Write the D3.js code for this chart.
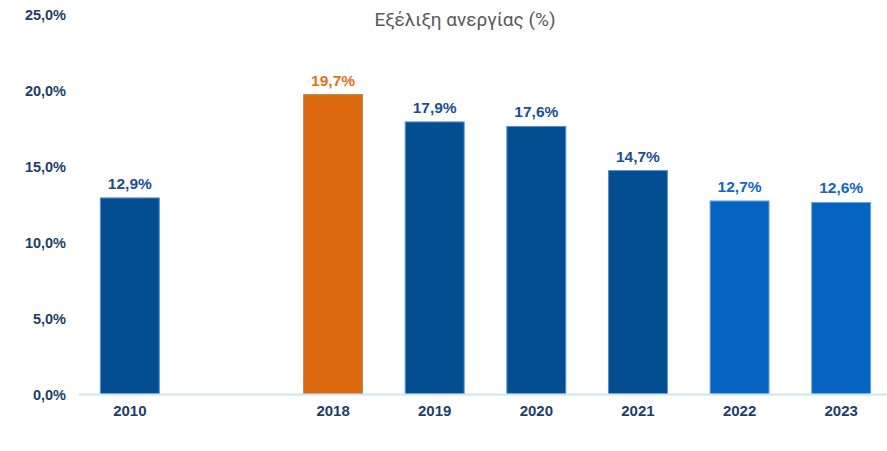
<!DOCTYPE html>
<html><head><meta charset="utf-8">
<script src="https://cdn.jsdelivr.net/npm/d3@7"></script>
<style>body{margin:0;background:#fff}svg{display:block}</style>
</head><body>
<svg id="c" width="887" height="451"></svg>
<script>
const categories = ["2010", "", "2018", "2019", "2020", "2021", "2022", "2023"];
const values = [12.9, null, 19.7, 17.9, 17.6, 14.7, 12.7, 12.6];
const yTicks = [0, 5, 10, 15, 20, 25];
const title = "Εξέλιξη ανεργίας (%)";
const barColors = ["#034e91", null, "#dd6a0f", "#034e91", "#034e91", "#034e91", "#0563c1", "#0563c1"];
const strokeColors = ["#5b8fd0", null, "#a8905a", "#5b8fd0", "#5b8fd0", "#5b8fd0", "#6aa3e0", "#6aa3e0"];
const labelColors = ["#1d4f8f", null, "#e2711d", "#1d4f8f", "#1d4f8f", "#1d4f8f", "#1166c4", "#1166c4"];

const svg = d3.select("#c");
const font = "'Liberation Sans', Arial, sans-serif";
const x = d3.scaleBand().domain(categories.map((c,i)=>i)).range([79, 892]).paddingInner(0.42).paddingOuter(0.21);
const y = d3.scaleLinear().domain([0, 25]).range([394, 14]);

svg.append("text").attr("x", 465).attr("y", 26).attr("text-anchor", "middle")
  .attr("font-family", "Roboto, 'Liberation Sans', sans-serif").attr("font-size", 19).attr("fill", "#595959").text(title);

const ya = svg.append("g").attr("transform", "translate(66,0)")
  .call(d3.axisLeft(y).tickValues(yTicks).tickSize(0).tickPadding(0)
    .tickFormat(d => d.toFixed(1).replace(".", ",") + "%"));
ya.select(".domain").remove();
ya.selectAll("text").attr("font-family", font).attr("font-size", 14.5).attr("font-weight", "bold").attr("fill", "#1f3e66").attr("dy", "0.35em");

const data = categories.map((c,i)=>({c, v: values[i], i})).filter(d => d.v != null);

svg.append("g").selectAll("rect").data(data).join("rect")
  .attr("x", d => x(d.i)).attr("width", x.bandwidth())
  .attr("y", d => y(d.v)).attr("height", d => y(0) - y(d.v))
  .attr("fill", d => barColors[d.i]).attr("stroke", d => strokeColors[d.i]).attr("stroke-width", 1);

svg.append("line").attr("x1", 79).attr("x2", 887).attr("y1", y(0)+0.5).attr("y2", y(0)+0.5)
  .attr("stroke", "#cfe3fa").attr("stroke-width", 2);

svg.append("g").selectAll("text").data(data).join("text")
  .attr("x", d => x(d.i) + x.bandwidth()/2).attr("y", d => y(d.v) - 9)
  .attr("text-anchor", "middle").attr("font-family", font).attr("font-size", 15.5).attr("font-weight", "bold")
  .attr("fill", d => labelColors[d.i]).text(d => d.v.toFixed(1).replace(".", ",") + "%");

const xa = svg.append("g").attr("transform", `translate(0,${y(0)})`)
  .call(d3.axisBottom(x).tickSize(0).tickPadding(11).tickFormat(i => categories[i]));
xa.select(".domain").remove();
xa.selectAll("text").attr("font-family", font).attr("font-size", 15).attr("font-weight", "bold").attr("fill", "#1f3e66").attr("dy", "0.71em");
</script>
</body></html>
